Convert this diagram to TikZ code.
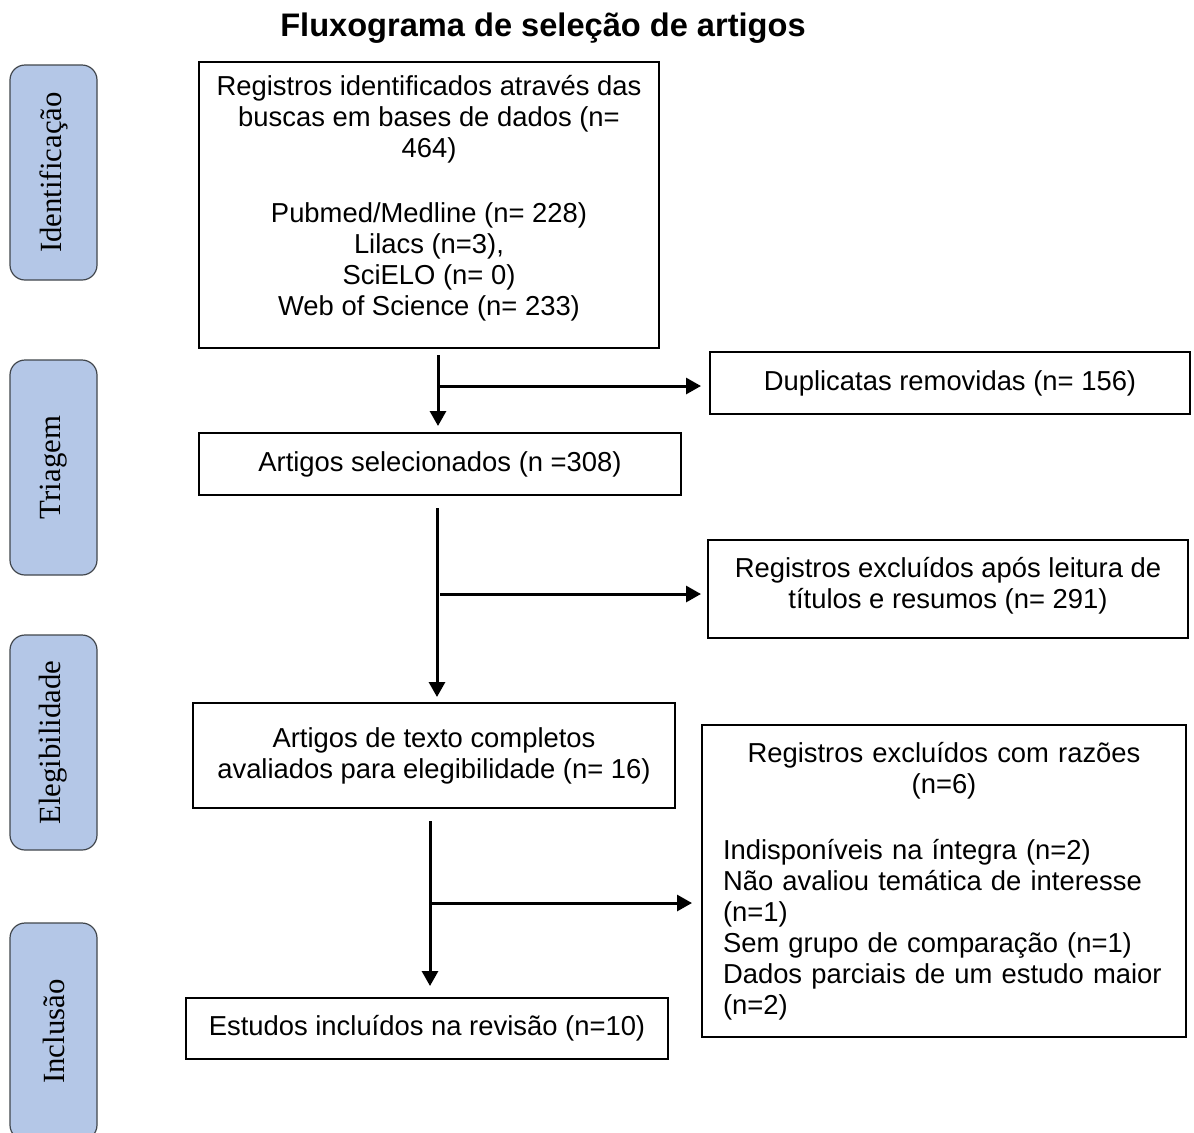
\documentclass[tikz,border=0pt]{standalone}
\usepackage{fontspec}
\setmainfont{Liberation Sans}
\newfontfamily\serifa{Liberation Serif}
\usetikzlibrary{arrows.meta, calc}
\definecolor{azulfase}{HTML}{B4C7E7}
\definecolor{bordafase}{HTML}{41464C}
\tikzset{
  caixa/.style={draw, line width=1pt, align=center, inner sep=0pt,
    font=\fontsize{13.7}{15.5}\selectfont},
  fase/.style={draw=bordafase, fill=azulfase, rounded corners=7.5pt, line width=0.6pt,
    rotate=90, minimum width=107.5pt, minimum height=43.5pt,
    font=\serifa\fontsize{15.4}{18}\selectfont},
  seta/.style={-{Triangle[length=7.5pt,width=8pt]}, line width=1.5pt},
}

\begin{document}
\begin{tikzpicture}[x=0.5pt, y=-0.5pt]
                \clip (0,0) rectangle (1194,1132);
                \node[font=\bfseries\fontsize{16.3}{19}\selectfont] (titulo) at (543,28) {Fluxograma de seleção de artigos};
                % fases
                \node[fase] (ident) at (53.5,172.5) {Identificação};
                \node[fase] (triagem) at (53.5,467.5) {Triagem};
                \node[fase] (eleg) at (53.5,742.5) {Elegibilidade};
                \node[fase, minimum width=108.5pt] (incl) at (53.5,1031.5) {Inclusão};
                % caixas
                \node[caixa, minimum width=230pt, minimum height=143pt, text depth=10pt] (reg) at (429,205)
                  {Registros identificados através das\\buscas em bases de dados (n=\\464)\\[17pt]
                   Pubmed/Medline (n= 228)\\Lilacs (n=3),\\SciELO (n= 0)\\Web of Science (n= 233)};
                \node[caixa, minimum width=240pt, minimum height=31pt] (dup) at (950,383) {Duplicatas removidas (n= 156)};
                \node[caixa, minimum width=241pt, minimum height=31pt] (sel) at (440,464) {Artigos selecionados (n =308)};
                \node[caixa, minimum width=240pt, minimum height=49pt, text depth=6pt] (excl1) at (948,589)
                  {Registros excluídos após leitura de\\títulos e resumos (n= 291)};
                \node[caixa, minimum width=241pt, minimum height=52.5pt] (compl) at (434,755.5)
                  {Artigos de texto completos\\avaliados para elegibilidade (n= 16)};
                \node[caixa, align=left, text width=221pt, inner xsep=10.5pt, minimum height=156pt] (excl2) at (944,881)
                  {{\centering Registros excluídos com razões\\(n=6)\par}\vspace{17.5pt}\noindent
                   Indisponíveis na íntegra (n=2)\\Não avaliou temática de interesse\\(n=1)\\
                   Sem grupo de comparação (n=1)\\Dados parciais de um estudo maior\\(n=2)};
                \node[caixa, minimum width=241pt, minimum height=30.5pt] (incluidos) at (427,1028.5) {Estudos incluídos na revisão (n=10)};
                % setas
                \coordinate (s1) at (438,355);
                \coordinate (h1) at (440,386);
                \coordinate (s2) at (437,508);
                \coordinate (h2) at (440,594);
                \coordinate (s3) at (430,821);
                \coordinate (h3) at (432,903);
                \draw[seta, shorten >=3pt] (s1) -- (s1 |- sel.north);
                \draw[seta, shorten >=4pt] (h1) -- (h1 -| dup.west);
                \draw[seta, shorten >=2.5pt] (s2) -- (s2 |- compl.north);
                \draw[seta, shorten >=3pt] (h2) -- (h2 -| excl1.west);
                \draw[seta, shorten >=5.5pt] (s3) -- (s3 |- incluidos.north);
                \draw[seta, shorten >=4.5pt] (h3) -- (h3 -| excl2.west);
            \end{tikzpicture}
\end{document}
